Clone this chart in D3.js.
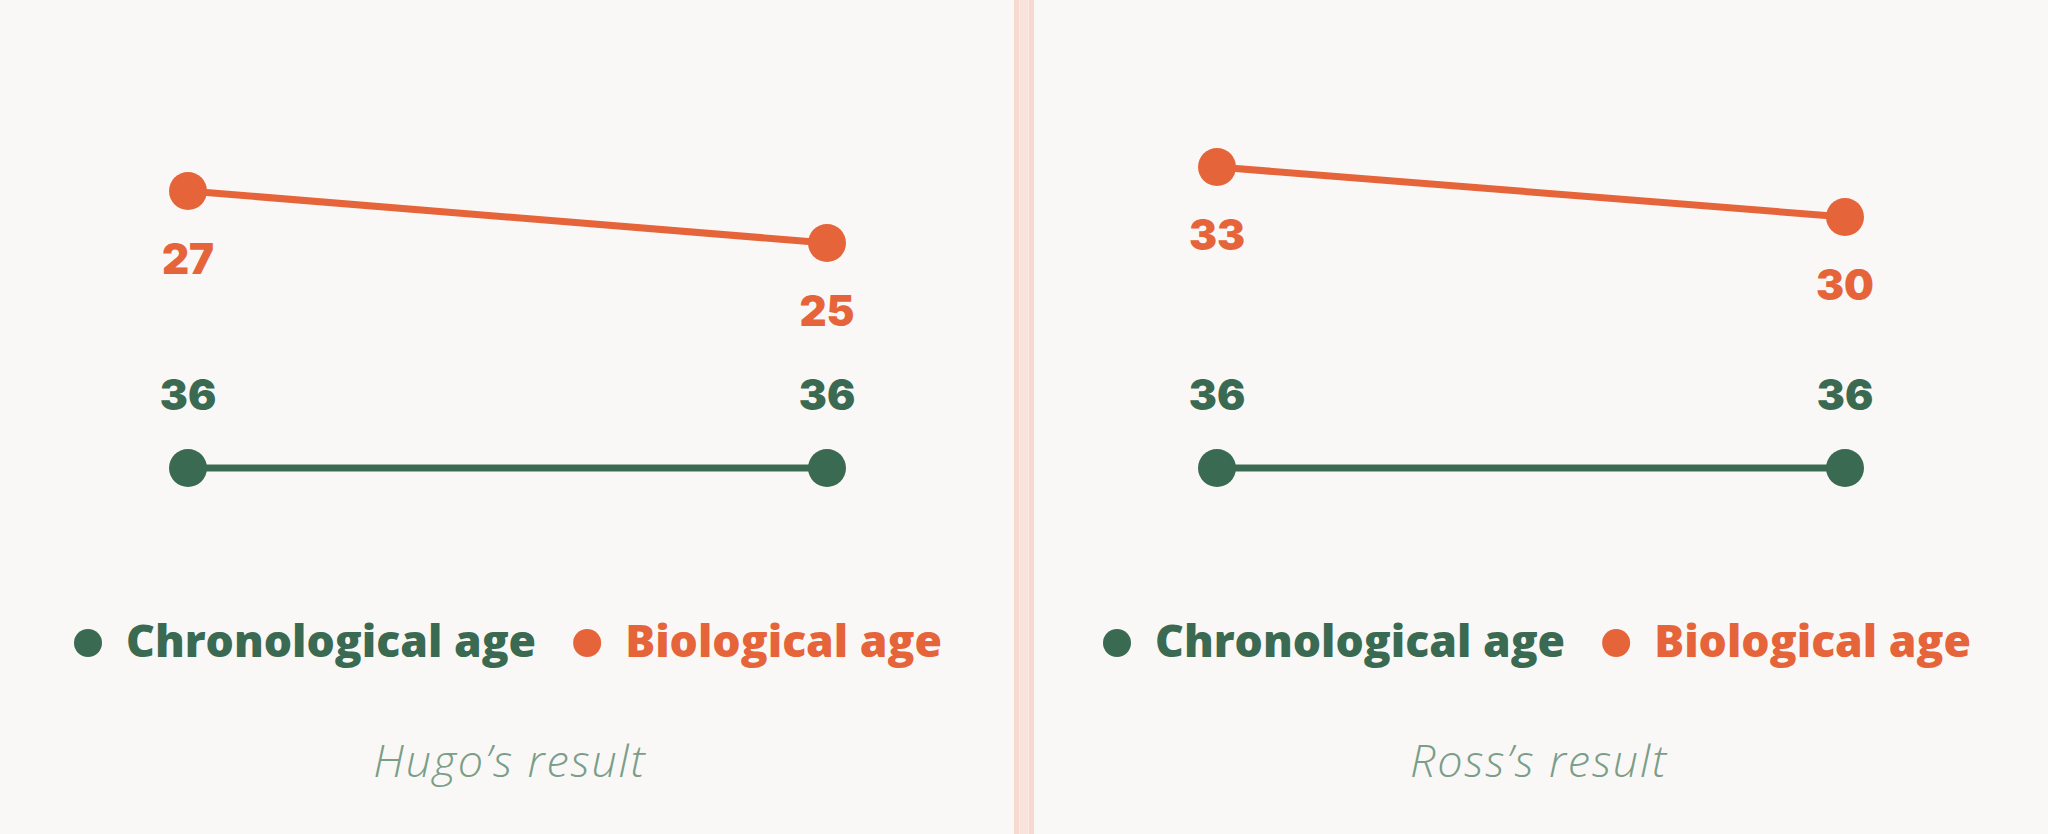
<!DOCTYPE html>
<html>
<head>
<meta charset="utf-8">
<script src="https://cdn.jsdelivr.net/npm/d3@7"></script>
<style>
  html, body { margin: 0; padding: 0; background: #faf8f6; }
  svg { display: block; }
</style>
</head>
<body>
<svg id="chart" width="2048" height="834"></svg>
<script>
// data
var panels = ["Hugo\u2019s result", "Ross\u2019s result"];
var timepoints = ["Before", "After"];
var seriesNames = ["Chronological age", "Biological age"];
var chronologicalAge = [[36, 36], [36, 36]];
var biologicalAge = [[27, 25], [33, 30]];

var colors = { chrono: "#3a6a51", bio: "#e6643a" };

var svg = d3.select("#chart");

svg.append("rect")
    .attr("width", 2048).attr("height", 834)
    .attr("fill", "#faf8f6");

// divider between the two panels
var divider = svg.append("g");
divider.append("rect").attr("x", 1014).attr("y", 0).attr("width", 20).attr("height", 834).attr("fill", "#f6d9cf");
divider.append("rect").attr("x", 1020).attr("y", 0).attr("width", 8).attr("height", 834).attr("fill", "#f9e3dc");
divider.append("rect").attr("x", 1019.3).attr("y", 0).attr("width", 0.8).attr("height", 834).attr("fill", "#fcefea");
divider.append("rect").attr("x", 1028).attr("y", 0).attr("width", 0.8).attr("height", 834).attr("fill", "#fcefea");

// panel layout
var panelCenter = [508, 1537];
var xRange = [[188, 827], [1217, 1845]];
var bioRange = [[243, 191], [217, 167]];

var yChrono = d3.scaleLinear().domain([35, 37]).range([494, 442]);

var numFont = "Inter, 'Noto Sans', sans-serif";
var legendFont = "'Open Sans', 'Noto Sans', sans-serif";

panels.forEach(function(name, i) {
    var g = svg.append("g");

    var x = d3.scalePoint().domain(timepoints).range(xRange[i]);

    var yBio = d3.scaleLinear()
        .domain(d3.extent(biologicalAge[i]))
        .range(bioRange[i]);

    var series = [
        { key: "chrono", values: chronologicalAge[i], y: yChrono },
        { key: "bio", values: biologicalAge[i], y: yBio }
    ];

    series.forEach(function(s) {
        var pts = s.values.map(function(v, j) { return { t: timepoints[j], v: v }; });

        var line = d3.line()
            .x(function(d) { return x(d.t); })
            .y(function(d) { return s.y(d.v); });

        g.append("path")
            .datum(pts)
            .attr("d", line)
            .attr("fill", "none")
            .attr("stroke", colors[s.key])
            .attr("stroke-width", 7);

        g.selectAll("circle." + s.key)
            .data(pts)
            .enter().append("circle")
                .attr("class", s.key)
                .attr("cx", function(d) { return x(d.t); })
                .attr("cy", function(d) { return s.y(d.v); })
                .attr("r", 19)
                .attr("fill", colors[s.key]);

        g.selectAll("text." + s.key)
            .data(pts)
            .enter().append("text")
                .attr("class", s.key)
                .attr("x", function(d) { return x(d.t); })
                .attr("y", function(d) {
                    // bio labels sit under the dot, chrono labels above
                    return s.key === "bio" ? s.y(d.v) + 83 : s.y(d.v) - 58;
                })
                .attr("text-anchor", "middle")
                .attr("font-family", numFont)
                .attr("font-weight", 900)
                .attr("font-size", 42)
                .attr("fill", colors[s.key])
                .text(function(d) { return d3.format("d")(d.v); });
    });

    // legend
    var legend = g.append("g");
    var keys = ["chrono", "bio"];
    var cursor = 0;
    seriesNames.forEach(function(label, k) {
        var item = legend.append("g").attr("transform", "translate(" + cursor + ",0)");
        item.append("circle")
            .attr("cx", 14).attr("cy", 643).attr("r", 14)
            .attr("fill", colors[keys[k]]);
        var t = item.append("text")
            .attr("x", 52).attr("y", 657)
            .attr("font-family", legendFont)
            .attr("font-weight", 800)
            .attr("font-size", 44.5)
            .attr("fill", colors[keys[k]])
            .text(label);
        cursor += 52 + t.node().getComputedTextLength() + 37;
    });
    var lw = legend.node().getBBox().width;
    legend.attr("transform", "translate(" + (panelCenter[i] - lw / 2) + ",0)");

    // caption
    g.append("text")
        .attr("x", panelCenter[i] + 2)
        .attr("y", 777)
        .attr("text-anchor", "middle")
        .attr("font-family", "'Open Sans', Lato, sans-serif")
        .attr("font-weight", 300)
        .attr("font-style", "italic")
        .attr("font-size", 45)
        .attr("letter-spacing", 1.8)
        .attr("fill", "#7a9e8a")
        .text(name);
});
</script>
</body>
</html>
